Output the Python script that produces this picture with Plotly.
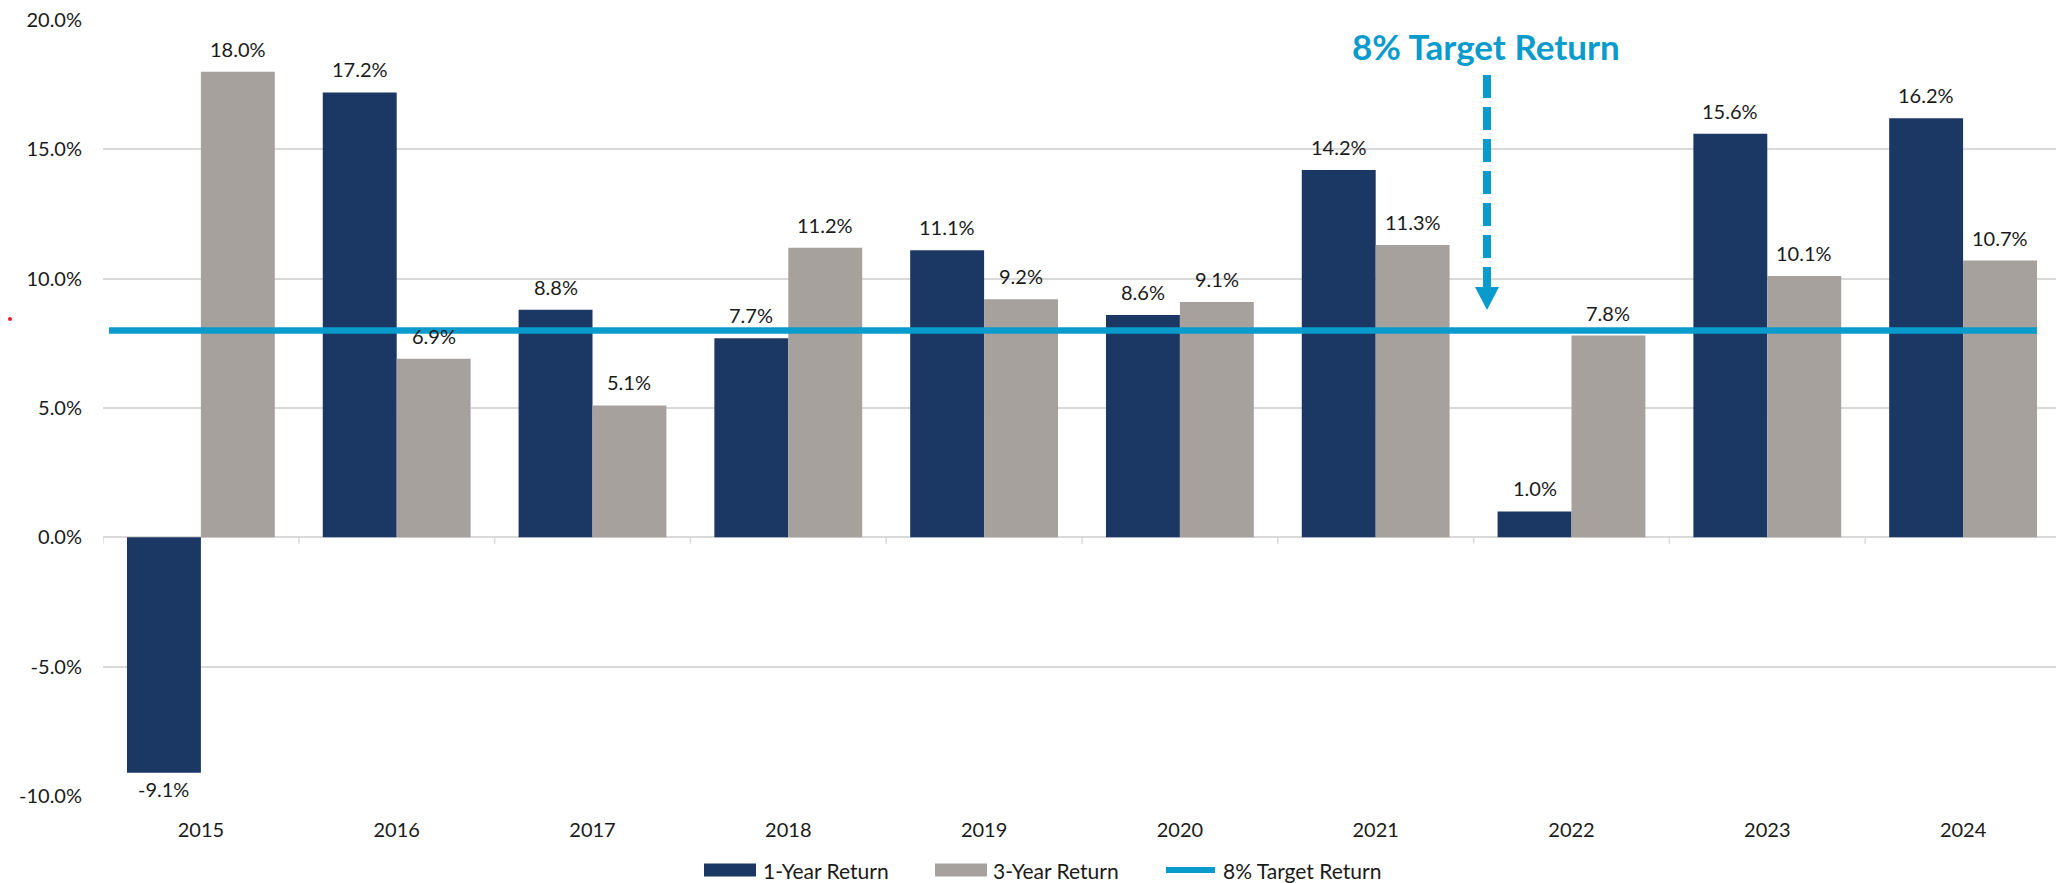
import plotly.graph_objects as go

# ---- data -------------------------------------------------------------
years = ["2015", "2016", "2017", "2018", "2019", "2020", "2021", "2022", "2023", "2024"]
one_year = [-9.1, 17.2, 8.8, 7.7, 11.1, 8.6, 14.2, 1.0, 15.6, 16.2]
three_year = [18.0, 6.9, 5.1, 11.2, 9.2, 9.1, 11.3, 7.8, 10.1, 10.7]
target = [8.0] * len(years)
y_ticks = [-10, -5, 0, 5, 10, 15, 20]
y_tick_text = ["-10.0%", "-5.0%", "0.0%", "5.0%", "10.0%", "15.0%", "20.0%"]

# ---- styling ----------------------------------------------------------
NAVY = "#1B3764"
GREY = "#A6A19C"
BLUE = "#0A9BCD"
TEXT = "#1A1A1A"
GRID = "#D9D9D9"
FONT = "Lato"

W, H = 2056, 883
M_L, M_R, M_T, M_B = 103, 0, 20, 87
BARGAP = 0.245
X_RANGE = [-0.5, 9.4745]
Y_RANGE = [-10, 20]

plot_w = W - M_L - M_R
plot_h = H - M_T - M_B


def px_x(px):
    return (px - M_L) / plot_w


def px_y(py):
    return (H - M_B - py) / plot_h


fig = go.Figure()

fig.add_trace(go.Bar(x=years, y=one_year, name="1-Year Return",
                     marker=dict(color=NAVY, line=dict(width=0)), showlegend=False))
fig.add_trace(go.Bar(x=years, y=three_year, name="3-Year Return",
                     marker=dict(color=GREY, line=dict(width=0)), showlegend=False))

# target line spans the secondary (point-based) axis
fig.add_trace(go.Scatter(x=list(range(len(years))), y=target, name="8% Target Return",
                         mode="lines", line=dict(color=BLUE, width=6.5),
                         xaxis="x2", yaxis="y", showlegend=False, hoverinfo="skip"))

# ---- value labels -----------------------------------------------------
half = (1 - BARGAP) / 4
annotations = []
for i, (a, b) in enumerate(zip(one_year, three_year)):
    for val, off in ((a, -half), (b, half)):
        annotations.append(dict(
            x=i + off, y=val, xref="x", yref="y",
            text=f"{val:.1f}%", showarrow=False,
            font=dict(family=FONT, size=20, color=TEXT),
            xanchor="center",
            yanchor="bottom" if val >= 0 else "top",
            yshift=9 if val >= 0 else -2,
        ))

# callout title
annotations.append(dict(
    x=px_x(1486), y=px_y(46), xref="paper", yref="paper",
    text="<b>8% Target Return</b>", showarrow=False,
    font=dict(family=FONT, size=35, color=BLUE),
    xanchor="center", yanchor="middle",
))

# ---- custom legend ----------------------------------------------------
legend_items = [
    ("1-Year Return", NAVY, "box", 704, 756, 762),
    ("3-Year Return", GREY, "box", 935, 987, 992),
    ("8% Target Return", BLUE, "line", 1163, 1218, 1222),
]
shapes = []
LEG_Y = 870
for label, color, kind, x0, x1, tx in legend_items:
    if kind == "box":
        shapes.append(dict(type="rect", xref="paper", yref="paper",
                           x0=px_x(x0), x1=px_x(x1), y0=px_y(LEG_Y - 6.5), y1=px_y(LEG_Y + 6.5),
                           fillcolor=color, line=dict(width=0)))
    else:
        shapes.append(dict(type="line", xref="paper", yref="paper",
                           x0=px_x(x0 + 3), x1=px_x(x1 - 3), y0=px_y(LEG_Y), y1=px_y(LEG_Y),
                           line=dict(color=color, width=6)))
    annotations.append(dict(x=px_x(tx), y=px_y(LEG_Y), xref="paper", yref="paper",
                            text=label, showarrow=False, xanchor="left", yanchor="middle",
                            borderpad=0,
                            font=dict(family=FONT, size=21, color=TEXT)))

# dashed pointer down to the target line
arrow_x = px_x(1487)
shapes.append(dict(type="line", xref="paper", yref="paper",
                   x0=arrow_x, x1=arrow_x, y0=px_y(75), y1=px_y(288),
                   line=dict(color=BLUE, width=8, dash="23px,9px")))
shapes.append(dict(type="path", xref="paper", yref="paper",
                   path=(f"M {px_x(1475)},{px_y(287)} L {px_x(1499)},{px_y(287)} "
                         f"L {arrow_x},{px_y(310)} Z"),
                   fillcolor=BLUE, line=dict(width=0)))

# category boundary ticks along the zero line
for k in range(len(years) + 1):
    shapes.append(dict(type="line", xref="x", yref="y",
                       x0=k - 0.5, x1=k - 0.5, y0=0, y1=-0.25,
                       line=dict(color=GRID, width=1.5)))
shapes.append(dict(type="line", xref="x", yref="y", x0=X_RANGE[0], x1=X_RANGE[1],
                   y0=0, y1=0, line=dict(color=GRID, width=1.5), layer="below"))

# small red mark at the left edge
shapes.append(dict(type="circle", xref="paper", yref="paper",
                   x0=px_x(8), x1=px_x(12), y0=px_y(317), y1=px_y(321),
                   fillcolor="#E8202A", line=dict(width=0)))

fig.update_layout(
    width=W, height=H,
    margin=dict(l=M_L, r=M_R, t=M_T, b=M_B, pad=0),
    paper_bgcolor="white", plot_bgcolor="white",
    barmode="group", bargap=BARGAP, bargroupgap=0,
    font=dict(family=FONT, size=20, color=TEXT),
    xaxis=dict(type="category", range=X_RANGE, showgrid=False, zeroline=False,
               showline=False, ticks="", tickfont=dict(family=FONT, size=20, color=TEXT),
               ticklabelstandoff=20),
    xaxis2=dict(overlaying="x", range=[-0.028, 9.089], visible=False, anchor="y"),
    yaxis=dict(range=Y_RANGE, tickvals=y_ticks, ticktext=y_tick_text,
               showgrid=True, gridcolor=GRID, gridwidth=1.5, zeroline=False,
               showline=False, ticks="", tickfont=dict(family=FONT, size=20, color=TEXT),
               ticklabelstandoff=20),
    annotations=annotations,
    shapes=shapes,
    showlegend=False,
)

fig.write_html("out.html")
